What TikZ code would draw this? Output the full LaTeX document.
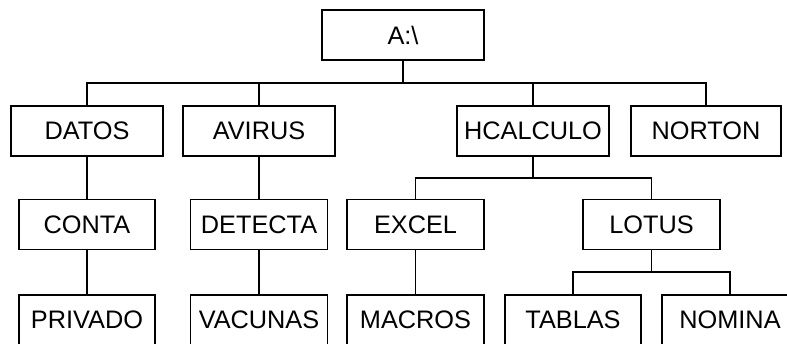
\documentclass[tikz,border=0pt]{standalone}
\usepackage{fontspec}
\setmainfont{Liberation Sans}
\usetikzlibrary{calc}
\tikzset{
	dirbox/.style={draw, line width=1.3pt, minimum height=1.25cm, inner sep=0pt, font=\fontsize{18}{21}\selectfont},
	tree edge/.style={to path={(\tikztostart) |- ($(\tikztostart)!0.5!(\tikztotarget)$) -| (\tikztotarget)}}
}
\begin{document}
\begin{tikzpicture}[x=0.025cm, y=-0.025cm, line width=1.3pt]
		\clip (0,0) rectangle (787,343);
		\fill[white] (0,0) rectangle (787,343);
		\node[dirbox, minimum width=4.05cm] (raiz) at (403,35) {A:\textbackslash};
		\node[dirbox, minimum width=3.8cm] (datos) at (87,131) {DATOS};
		\node[dirbox, minimum width=3.8cm] (avirus) at (259,131) {AVIRUS};
		\node[dirbox, minimum width=3.78cm] (hcalculo) at (533,131) {HCALCULO};
		\node[dirbox, minimum width=3.75cm] (norton) at (706,131) {NORTON};
		\node[dirbox, minimum width=3.4cm] (conta) at (87,224.5) {CONTA};
		\node[dirbox, minimum width=3.42cm] (detecta) at (259,224.5) {DETECTA};
		\node[dirbox, minimum width=3.42cm] (excel) at (415.5,224.5) {EXCEL};
		\node[dirbox, minimum width=3.42cm] (lotus) at (651.5,224.5) {LOTUS};
		\node[dirbox, minimum width=3.4cm] (privado) at (87,320) {PRIVADO};
		\node[dirbox, minimum width=3.42cm] (vacunas) at (259,320) {VACUNAS};
		\node[dirbox, minimum width=3.42cm] (macros) at (415.5,320) {MACROS};
		\node[dirbox, minimum width=3.4cm] (tablas) at (573,320) {TABLAS};
		\node[dirbox, minimum width=3.4cm] (nomina) at (730,320) {NOMINA};
		\draw (raiz.south) to[tree edge] (datos.north);
		\draw (raiz.south) to[tree edge] (avirus.north);
		\draw (raiz.south) to[tree edge] (hcalculo.north);
		\draw (raiz.south) to[tree edge] (norton.north);
		\draw (hcalculo.south) to[tree edge] (excel.north);
		\draw (hcalculo.south) to[tree edge] (lotus.north);
		\draw (lotus.south) to[tree edge] (tablas.north);
		\draw (lotus.south) to[tree edge] (nomina.north);
		\draw (datos.south) -- (conta.north);
		\draw (avirus.south) -- (detecta.north);
		\draw (conta.south) -- (privado.north);
		\draw (detecta.south) -- (vacunas.north);
		\draw (excel.south) -- (macros.north);
	\end{tikzpicture}
\end{document}
